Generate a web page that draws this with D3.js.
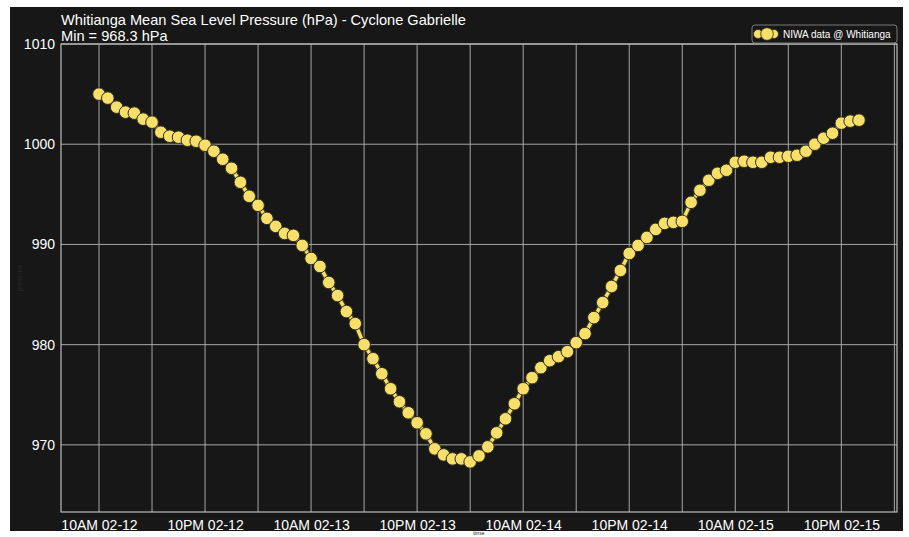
<!DOCTYPE html>
<html lang="en">
    <head>
        <meta charset="utf-8">
        <title>Whitianga MSLP</title>
        <script src="https://d3js.org/d3.v7.min.js"></script>
        <style>
            body { margin: 0; background: #ffffff; }
            text { font-family: "Liberation Sans", Arial, sans-serif; }
        </style>
    </head>
    <body>
        <script type="text/javascript">

            //hourly readings, first one at 10AM 02-12
            var startTime = "2023-02-12T10:00:00";
            var pressure = [
                1005.0, 1004.6, 1003.7, 1003.2, 1003.1, 1002.5, 1002.2, 1001.2, 1000.8, 1000.7,
                1000.4, 1000.3, 999.9, 999.3, 998.5, 997.6, 996.2, 994.8, 993.9, 992.6,
                991.8, 991.1, 990.9, 989.9, 988.6, 987.8, 986.2, 984.9, 983.3, 982.1,
                980.0, 978.6, 977.1, 975.6, 974.3, 973.2, 972.2, 971.1, 969.6, 969.0,
                968.6, 968.6, 968.3, 968.9, 969.8, 971.2, 972.6, 974.1, 975.6, 976.7,
                977.7, 978.4, 978.8, 979.3, 980.2, 981.1, 982.7, 984.2, 985.8, 987.4,
                989.1, 989.9, 990.7, 991.5, 992.1, 992.2, 992.3, 994.2, 995.4, 996.4,
                997.1, 997.4, 998.2, 998.3, 998.2, 998.2, 998.7, 998.7, 998.8, 998.9,
                999.3, 1000.0, 1000.6, 1001.1, 1002.1, 1002.3, 1002.4
            ];
            var yTicks = [970, 980, 990, 1000, 1010];
            var titleLines = ["Whitianga Mean Sea Level Pressure (hPa) - Cyclone Gabrielle", "Min = 968.3 hPa"];
            var legendLabel = "NIWA data @ Whitianga";

            var hour = 3600 * 1000;
            var t0 = new Date(startTime);
            var data = pressure.map(function(p, i) {
                return {time: new Date(t0.getTime() + i * hour), value: p};
            });

            var W = 909, H = 537;
            var plot = {left: 61, right: 897, top: 44, bottom: 512};
            var yellow = "#f7df6a";

            var svg = d3.select("body")
                .append("svg")
                .attr("width", W)
                .attr("height", H);

            //dark figure background
            svg.append("rect")
                .attr("x", 10).attr("y", 7)
                .attr("width", 893).attr("height", 524)
                .attr("fill", "#171717");

            //scales, 5% padding on time, y from min-5 up to 1010
            var tMin = data[0].time, tMax = data[data.length - 1].time;
            var pad = (tMax - tMin) * 0.05;
            var xScale = d3.scaleTime()
                .domain([new Date(tMin.getTime() - pad), new Date(tMax.getTime() + pad)])
                .range([plot.left, plot.right]);

            var yMin = d3.min(pressure) - 5;
            var yScale = d3.scaleLinear()
                .domain([yMin, 1010])
                .range([plot.bottom, plot.top]);

            //grid every 6 hours from the first reading, labels every 12
            var tEnd = xScale.domain()[1].getTime();
            var gridTimes = d3.range(tMin.getTime(), tEnd, 6 * hour).map(function(t) { return new Date(t); });
            var labelTimes = d3.range(tMin.getTime(), tEnd, 12 * hour).map(function(t) { return new Date(t); });

            svg.append("g")
                .selectAll("line")
                .data(gridTimes)
                .enter()
                .append("line")
                .attr("x1", function(d) { return xScale(d); })
                .attr("x2", function(d) { return xScale(d); })
                .attr("y1", plot.top)
                .attr("y2", plot.bottom)
                .attr("stroke", "#a8a8a8")
                .attr("stroke-width", 1);

            svg.append("g")
                .selectAll("line")
                .data(yTicks)
                .enter()
                .append("line")
                .attr("x1", plot.left)
                .attr("x2", plot.right)
                .attr("y1", function(d) { return yScale(d); })
                .attr("y2", function(d) { return yScale(d); })
                .attr("stroke", "#a8a8a8")
                .attr("stroke-width", 1);

            //frame
            svg.append("rect")
                .attr("x", plot.left).attr("y", plot.top)
                .attr("width", plot.right - plot.left)
                .attr("height", plot.bottom - plot.top)
                .attr("fill", "none")
                .attr("stroke", "#bdbdbd")
                .attr("stroke-width", 1.2);

            //x axis
            var xAxis = d3.axisBottom(xScale)
                .tickValues(labelTimes)
                .tickFormat(d3.timeFormat("%I%p %m-%d"))
                .tickSize(0)
                .tickPadding(8);
            var gx = svg.append("g")
                .attr("transform", "translate(0," + plot.bottom + ")")
                .call(xAxis);
            gx.select(".domain").remove();
            gx.selectAll("text")
                .attr("fill", "#ffffff")
                .attr("font-size", "14px")
                .attr("font-family", "Liberation Sans, Arial, sans-serif");

            //y axis
            var yAxis = d3.axisLeft(yScale)
                .tickValues(yTicks)
                .tickFormat(d3.format("d"))
                .tickSize(0)
                .tickPadding(6);
            var gy = svg.append("g")
                .attr("transform", "translate(" + plot.left + ",0)")
                .call(yAxis);
            gy.select(".domain").remove();
            gy.selectAll("text")
                .attr("fill", "#ffffff")
                .attr("font-size", "14px")
                .attr("font-family", "Liberation Sans, Arial, sans-serif");

            //faint axis names
            svg.append("text")
                .text("pressure")
                .attr("transform", "translate(22," + ((plot.top + plot.bottom) / 2) + ") rotate(-90)")
                .attr("text-anchor", "middle")
                .attr("font-size", "7px")
                .attr("fill", "#2a2a2a");
            svg.append("text")
                .text("time")
                .attr("x", (plot.left + plot.right) / 2)
                .attr("y", 535)
                .attr("text-anchor", "middle")
                .attr("font-size", "6px")
                .attr("fill", "#242424");

            //title
            svg.selectAll(".title")
                .data(titleLines)
                .enter()
                .append("text")
                .attr("class", "title")
                .text(function(d) { return d; })
                .attr("x", plot.left)
                .attr("y", function(d, i) { return 25 + i * 16; })
                .attr("font-size", "14.6px")
                .attr("fill", "#ffffff");

            //line + markers
            var line = d3.line()
                .x(function(d) { return xScale(d.time); })
                .y(function(d) { return yScale(d.value); });

            svg.append("path")
                .datum(data)
                .attr("d", line)
                .attr("fill", "none")
                .attr("stroke", "#3a3520")
                .attr("stroke-width", 6);
            svg.append("path")
                .datum(data)
                .attr("d", line)
                .attr("fill", "none")
                .attr("stroke", yellow)
                .attr("stroke-width", 3.5);

            svg.append("g")
                .selectAll("circle")
                .data(data)
                .enter()
                .append("circle")
                .attr("cx", function(d) { return xScale(d.time); })
                .attr("cy", function(d) { return yScale(d.value); })
                .attr("r", 6.3)
                .attr("fill", yellow)
                .attr("stroke", "#2b2b1f")
                .attr("stroke-width", 1);

            //legend
            var lg = svg.append("g").attr("transform", "translate(752,25)");
            lg.append("rect")
                .attr("width", 145).attr("height", 18)
                .attr("rx", 3)
                .attr("fill", "#171717")
                .attr("stroke", "#7a7a7a")
                .attr("stroke-width", 1);
            lg.append("line")
                .attr("x1", 4).attr("x2", 24)
                .attr("y1", 9).attr("y2", 9)
                .attr("stroke", yellow)
                .attr("stroke-width", 5);
            lg.selectAll("circle")
                .data([[6, 4.5], [22, 4.5], [15, 6.3]])
                .enter()
                .append("circle")
                .attr("cx", function(d) { return d[0]; })
                .attr("cy", 9)
                .attr("r", function(d) { return d[1]; })
                .attr("fill", yellow)
                .attr("stroke", "#2b2b1f")
                .attr("stroke-width", 0.8);
            lg.append("text")
                .text(legendLabel)
                .attr("x", 31)
                .attr("y", 12.8)
                .attr("font-size", "10px")
                .attr("fill", "#ffffff");

        </script>
    </body>
</html>
